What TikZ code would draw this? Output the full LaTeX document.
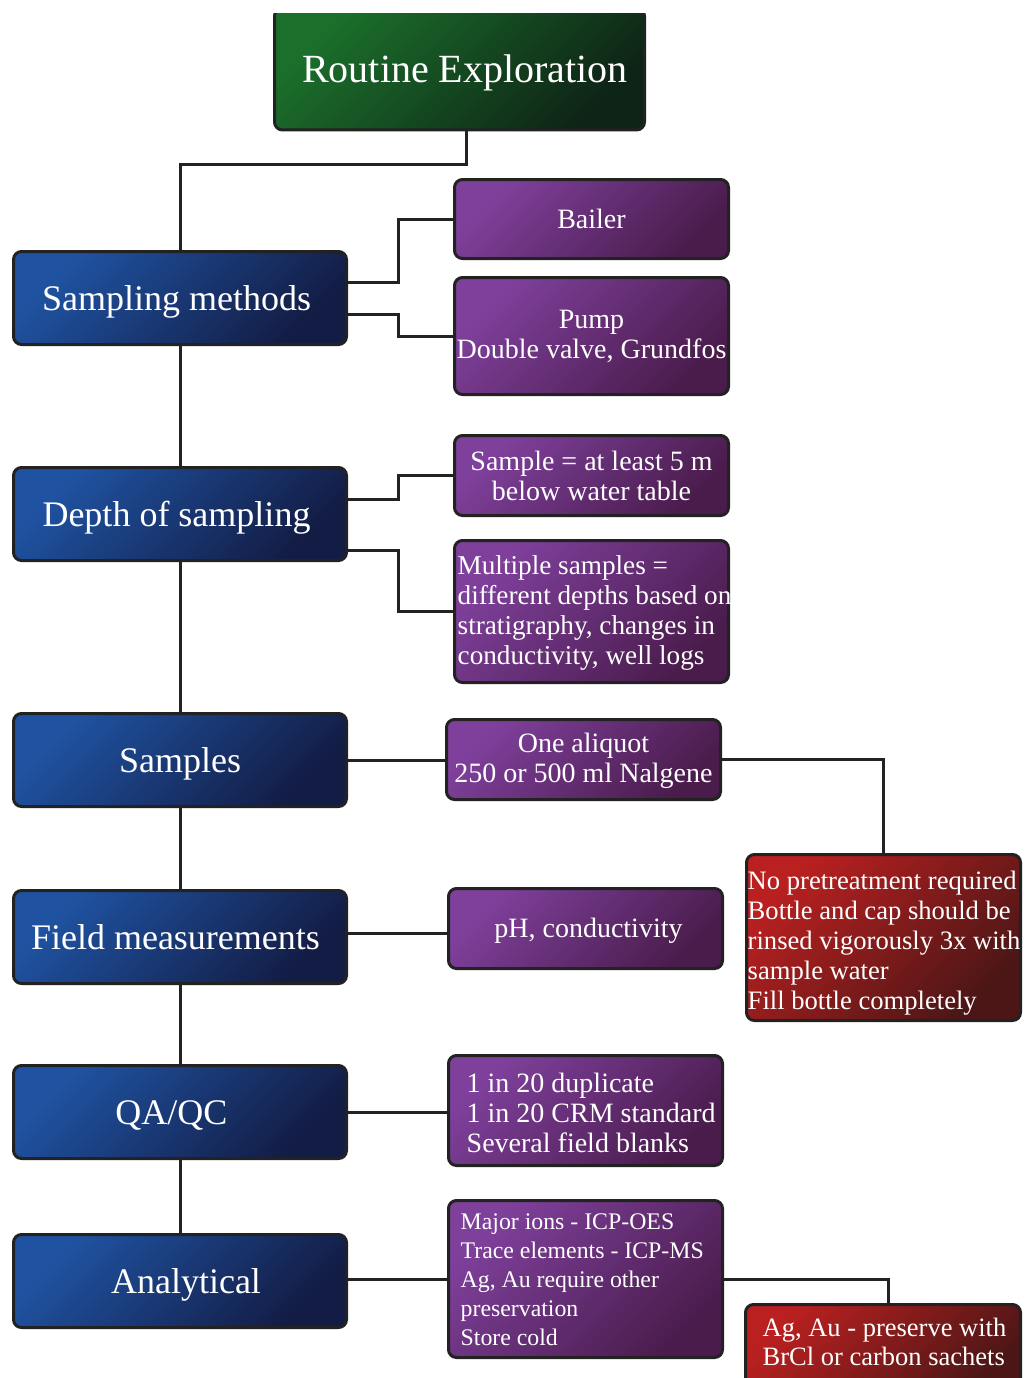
\documentclass[tikz,border=0pt]{standalone}
\usepackage{fontspec}
\setmainfont{Liberation Serif}
\usetikzlibrary{calc}
\definecolor{lineclr}{HTML}{222222}
\definecolor{gtl}{HTML}{1B6F2B}
\definecolor{gbr}{HTML}{0E2416}
\definecolor{btl}{HTML}{1F53A2}
\definecolor{bbr}{HTML}{131C44}
\definecolor{ptl}{HTML}{7F409C}
\definecolor{pbr}{HTML}{4A1C4C}
\definecolor{rtl}{HTML}{BA2020}
\definecolor{rbr}{HTML}{4C1616}
\begin{document}
\begin{tikzpicture}[x=1pt,y=-1pt]
\tikzset{
 box/.style={draw=lineclr, line width=3pt, rounded corners=8pt, text=white, inner sep=0pt},
 gbox/.style={box, top color=gtl, bottom color=gbr, shading angle=45, font=\fontsize{40}{44}\selectfont, text height=28pt, text depth=0pt},
 bbox/.style={box, top color=btl, bottom color=bbr, shading angle=45, minimum width=333, minimum height=93, font=\fontsize{36}{40}\selectfont, text height=26pt, text depth=2pt},
 pbox/.style={box, top color=ptl, bottom color=pbr, shading angle=45, minimum width=274, font=\fontsize{28}{30}\selectfont, align=center},
 rbox/.style={box, top color=rtl, bottom color=rbr, shading angle=45, minimum width=274},
 ptext/.style={text=white, inner sep=0pt, align=left, anchor=west, font=\fontsize{28}{30}\selectfont},
 conn/.style={draw=lineclr, line width=3pt},
}
\useasboundingbox (0,0) rectangle (1025,1378);

\begin{scope}
\clip (0,14) rectangle (1025,1378);
\node[gbox, minimum width=370, minimum height=122] (re) at (459.5,69) {\hspace*{11pt}Routine Exploration};
\end{scope}

% main column
\node[bbox] (sm) at (180,298) {\hspace*{-7pt}Sampling methods};
\node[bbox] (dp) at (180,514) {\hspace*{-7pt}Depth of sampling};
\node[bbox] (sa) at (180,760) {Samples};
\node[bbox] (fm) at (180,937) {\hspace*{-9pt}Field measurements};
\node[bbox] (qa) at (180,1112) {\hspace*{-17pt}QA/QC};
\node[bbox] (an) at (180,1281) {\hspace*{12pt}Analytical};

% purple boxes
\node[pbox, minimum height=79] (bl) at (591.5,219) {\rule{0pt}{20pt}Bailer};
\node[pbox, minimum height=117] (pu) at (591.5,336) {Pump\\Double valve, Grundfos};
\node[pbox, minimum height=80] (s5) at (591.5,475.5) {Sample = at least 5 m\\below water table};
\node[pbox, minimum height=142] (ms) at (591.5,611.5) {};
\node[ptext, font=\fontsize{27.2}{30}\selectfont] (mst) at ([xshift=4.5pt,yshift=-1pt]ms.west) {Multiple samples =\\different depths based on\\stratigraphy, changes in\\conductivity, well logs};
\node[pbox, minimum height=80] (oa) at (583.5,759.5) {\rule{0pt}{22pt}One aliquot\\250 or 500 ml Nalgene};
\node[pbox, minimum height=80] (ph) at (585.5,928.5) {\rule{0pt}{24pt}\hspace*{6pt}pH, conductivity};
\node[pbox, minimum height=110] (qt) at (585.5,1110.5) {};
\node[ptext] (qtt) at ([xshift=19.5pt,yshift=-2pt]qt.west) {1 in 20 duplicate\\1 in 20 CRM standard\\Several field blanks};
\node[pbox, minimum height=157] (mj) at (585.5,1279) {};
\node[ptext, font=\fontsize{23.8}{29}\selectfont] (mjt) at ([xshift=13.5pt,yshift=-1pt]mj.west) {Major ions - ICP-OES\\Trace elements - ICP-MS\\Ag, Au require other\\preservation\\Store cold};

% red boxes
\node[rbox, minimum height=166] (r1) at (883.5,937.5) {};
\node[ptext, font=\fontsize{26.6}{30}\selectfont] (r1t) at ([xshift=2.5pt,yshift=-5.5pt]r1.west) {No pretreatment required\\Bottle and cap should be\\rinsed vigorously 3x with\\sample water\\Fill bottle completely};
\node[rbox, minimum height=91, minimum width=275] (r2) at (883,1350) {};
\node[ptext, font=\fontsize{26.5}{29}\selectfont] (r2t) at ([xshift=18.5pt,yshift=8pt]r2.west) {Ag, Au - preserve with\\BrCl or carbon sachets};

% connectors
\draw[conn] ([xshift=6.5pt]re.south) -- ++(0,33) -| (sm.north);
\draw[conn] ([yshift=16pt]sm.east) -- ++(50,0) |- (bl.west);
\draw[conn] ([yshift=-16pt]sm.east) -- ++(50,0) |- (pu.west);
\draw[conn] (sm.south) -- (dp.north);
\draw[conn] ([yshift=15pt]dp.east) -- ++(50,0) |- (s5.west);
\draw[conn] ([yshift=-36pt]dp.east) -- ++(50,0) |- (ms.west);
\draw[conn] (dp.south) -- (sa.north);
\draw[conn] (sa.east) -- (sa.east -| oa.west);
\draw[conn] (oa.east) -| (r1.north);
\draw[conn] (sa.south) -- (fm.north);
\draw[conn] ([yshift=4pt]fm.east) -- ([yshift=4pt]fm.east -| ph.west);
\draw[conn] (fm.south) -- (qa.north);
\draw[conn] (qa.east) -- (qa.east -| qt.west);
\draw[conn] (qa.south) -- (an.north);
\draw[conn] ([yshift=2pt]an.east) -- ([yshift=2pt]an.east -| mj.west);
\draw[conn] (mj.east) -| ([xshift=5pt]r2.north);
\end{tikzpicture}
\end{document}
